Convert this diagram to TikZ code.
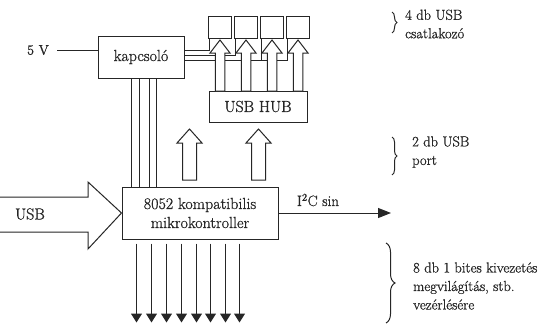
\documentclass[tikz,border=0pt]{standalone}
\usepackage{fontspec}
\setmainfont{Latin Modern Roman}[FakeBold=0.9]
\usetikzlibrary{arrows.meta,decorations.pathreplacing,calc}
\colorlet{ink}{black!85}
\newcommand\blockarrowup[6]{% x, ybottom, ytip, shaft half, head half, head length
  \draw[hollow] (#1-#4,#2) -- (#1-#4,#3+#6) -- (#1-#5,#3+#6) -- (#1,#3)
    -- (#1+#5,#3+#6) -- (#1+#4,#3+#6) -- (#1+#4,#2) -- cycle;}
\begin{document}
\begin{tikzpicture}[x=1pt,y=-1pt,
  line/.style={draw=ink, line width=1pt},
  box/.style={line, fill=white, rectangle, inner sep=0pt, text=ink},
  hollow/.style={line, fill=white, line join=miter},
  big/.style={font=\fontsize{16}{19}\selectfont, text=ink},
  lbl/.style={font=\fontsize{14.5}{18.5}\selectfont, align=left, anchor=west, inner sep=0pt, text=ink},
  brc/.style={line, decorate, decoration={brace, amplitude=#1}}]
\useasboundingbox[fill=white] (0,0) rectangle (559,324);

% nodes
\node[box, big, minimum width=86pt, minimum height=42pt] (ks) at (141,57) {kapcsoló};
\node[big, font=\fontsize{14}{17}\selectfont, inner xsep=8pt, inner ysep=0pt] (v5) at (38,50) {5 V};
\foreach \i/\cx in {1/220,2/246,3/272,4/298}
  {\node[box, minimum width=23pt, minimum height=22pt] (c\i) at (\cx,27) {};}
\node[box, big, minimum width=98pt, minimum height=31pt] (hub) at (258,106.5) {USB HUB};
\node[box, big, align=center, minimum width=156pt, minimum height=52pt] (mc) at (200,213) {8052 kompatibilis\\mikrokontroller};

% 5 V supply
\draw[line] (v5.east) -- (v5.east -| ks.west);

% power lines from switch to the connectors
\coordinate (p1) at (209.5,50);
\coordinate (p2) at (235.5,55);
\coordinate (p3) at (261.5,60);
\coordinate (p4) at (287.5,60);
\draw[line] (ks.east |- p1) -- (p1) -- (p1 |- c1.south);
\draw[line] (ks.east |- p2) -- (p2) -- (p2 |- c2.south);
\draw[line] (ks.east |- p3) -- (p3) -- (p3 |- c3.south);
\draw[line] (p3) -- (p4) -- (p4 |- c4.south);

% control lines between switch and microcontroller
\foreach \x in {132,140,150,157}
  {\draw[line] ($(ks.south west)+(\x-98,0)$) -- ($(mc.north west)+(\x-122,0)$);}

% hollow arrows hub -> connectors
\foreach \cx in {220,246,272,298}
  {\blockarrowup{\cx}{91}{40}{4.75}{10}{13}}
% hollow arrows microcontroller -> hub
\blockarrowup{189.5}{180}{129}{7}{12.5}{14}
\blockarrowup{258.5}{180}{129}{7}{12.5}{14}

% USB input arrow
\draw[hollow] (0,197) -- (88,197) -- (88,182) -- (mc.west) -- (88,249) -- (88,232) -- (0,232);
\node[big] (usb) at (30,214) {USB};

% I2C bus
\coordinate (i2cend) at (391,213);
\draw[line, -{Triangle[width=10pt,length=13pt]}] (mc.east) -- (i2cend);
\node[big, font=\fontsize{15}{18}\selectfont] (i2c) at (318,200) {I\textsuperscript{2}C sin};

% 8 output lines
\foreach \x in {137,152,167,182,197,211,226,240}
  {\draw[line, -{Triangle[width=11pt,length=9pt]}] ($(mc.south west)+(\x-122,4)$) -- ($(mc.south west)+(\x-122,83)$);}

% braces and labels
\draw[brc=5pt] (392,12) -- (392,33);
\node[lbl] (l1) at (405,24) {4 db USB\\csatlakozó};
\draw[brc=5pt] (392,137) -- (392,175);
\node[lbl] (l2) at (412,152) {2 db USB\\port};
\draw[brc=9pt] (386,243) -- (386,323);
\node[lbl] (l3) at (413,286) {8 db 1 bites kivezetés\\megvilágítás, stb.\\vezérlésére};
\end{tikzpicture}
\end{document}
